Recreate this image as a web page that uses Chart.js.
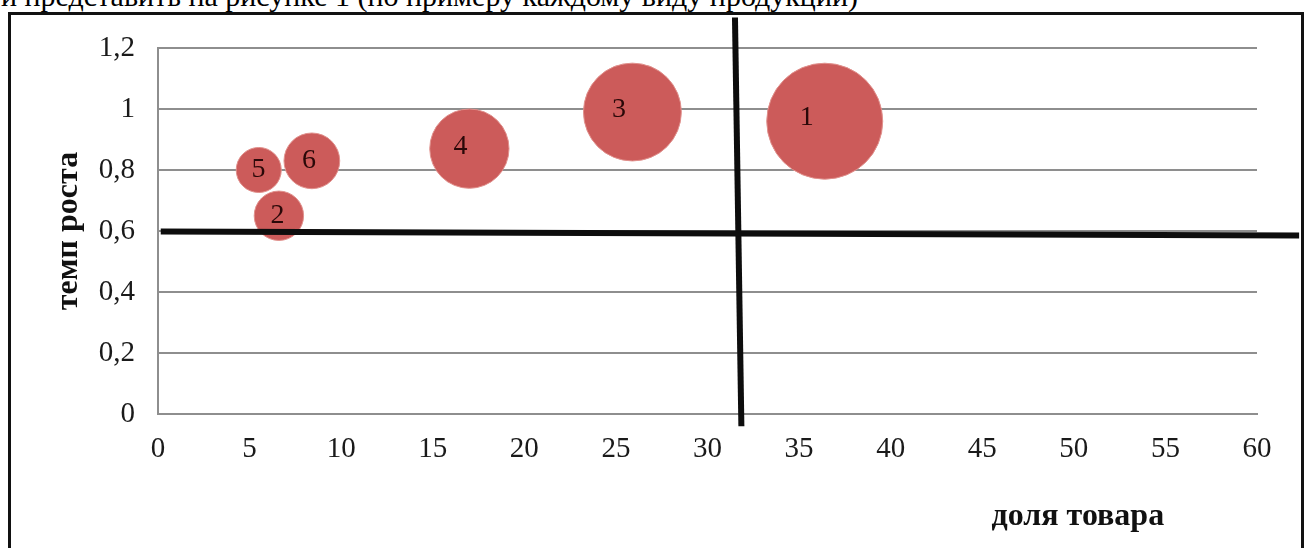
<!DOCTYPE html>
<html>
<head>
<meta charset="utf-8">
<script src="https://cdn.jsdelivr.net/npm/chart.js@4.4.0/dist/chart.umd.min.js"></script>
<style>
body { margin:0; width:1306px; height:548px; overflow:hidden; background:#fff; position:relative; }
#texte { position:absolute; left:1px; top:-21px; font-family:"Liberation Serif", serif; font-size:30px; color:#000; white-space:nowrap; line-height:34px; }
#cadre { position:absolute; left:8px; top:12px; width:1290px; height:600px; border-left:3px solid #111; border-top:3px solid #111; border-right:3px solid #111; }
#graph { position:absolute; left:0; top:0; }
</style>
</head>
<body>
<div id="texte">и представить на рисунке 1 (по примеру каждому виду продукции)</div>
<div id="cadre"></div>
<canvas id="graph" width="1306" height="548"></canvas>
<script>
// produits et valeurs
const produits = ['1', '2', '3', '4', '5', '6'];
const partTovar = [36.4, 6.6, 25.9, 17.0, 5.5, 8.4];   // доля товара (aussi taille de la bulle)
const tempRosta = [0.96, 0.65, 0.99, 0.87, 0.80, 0.83];
const yTickLabels = ['0', '0,2', '0,4', '0,6', '0,8', '1', '1,2'];
// lignes de separation (tracées a la main sur l'original)
const ligneH = [{x: 0.15, y: 0.598}, {x: 62.3, y: 0.585}];
const ligneV = [{x: 31.5, y: 1.3}, {x: 31.85, y: -0.04}];

const rMax = 58;
const maxPart = Math.max(...partTovar);

bulles = [];
for (i = 0; i < produits.length; i++) {
	bulles.push({x: partTovar[i], y: tempRosta[i], r: rMax * Math.sqrt(partTovar[i] / maxPart)});
}

const serif = '"Liberation Serif", "Times New Roman", serif';

// numero du produit dans chaque bulle + titre de l'axe x
const etiquettes = {
	id: 'etiquettes',
	afterDatasetsDraw(chart) {
		const ctx = chart.ctx;
		const meta = chart.getDatasetMeta(2);
		ctx.save();
		ctx.font = '28px ' + serif;
		ctx.fillStyle = '#2a0808';
		ctx.textAlign = 'center';
		ctx.textBaseline = 'middle';
		meta.data.forEach(function (pt, i) {
			const r = bulles[i].r;
			ctx.fillText(produits[i], pt.x - (r - 22) * 0.5, pt.y - (r - 22) * 0.1);
		});
		ctx.font = 'bold 32px ' + serif;
		ctx.fillStyle = '#111';
		ctx.textAlign = 'center';
		ctx.textBaseline = 'alphabetic';
		const a = chart.chartArea;
		ctx.fillText('доля товара', a.left + (a.right - a.left) * 0.837, a.bottom + 111);
		ctx.restore();
	}
};

new Chart(document.getElementById('graph'), {
	type: 'bubble',
	data: {
		datasets: [
			{
				type: 'line', data: ligneH, borderColor: '#0d0d0d', borderWidth: 6,
				pointRadius: 0, clip: false, order: 0, fill: false
			},
			{
				type: 'line', data: ligneV, borderColor: '#0d0d0d', borderWidth: 6,
				pointRadius: 0, clip: false, order: 0, fill: false
			},
			{
				data: bulles, backgroundColor: '#cc5b5a', borderColor: '#e0908c',
				borderWidth: 1, order: 1, clip: false
			}
		]
	},
	plugins: [etiquettes],
	options: {
		responsive: false,
		animation: false,
		layout: { autoPadding: false, padding: { left: 0, right: 49, top: 48, bottom: 0 } },
		plugins: { legend: { display: false }, tooltip: { enabled: false } },
		scales: {
			x: {
				type: 'linear', min: 0, max: 60,
				grid: { display: false, drawTicks: false },
				border: { display: true, color: '#8e8e8e', width: 2 },
				ticks: { stepSize: 5, padding: 18, color: '#1a1a1a', font: { family: serif, size: 29 } },
				afterFit: function (s) { s.height = 134; }
			},
			y: {
				type: 'linear', min: 0, max: 1.2,
				grid: { color: '#8e8e8e', lineWidth: 2, drawTicks: false },
				border: { display: true, color: '#8e8e8e', width: 2 },
				ticks: {
					stepSize: 0.2, padding: 23, color: '#1a1a1a', font: { family: serif, size: 29 },
					callback: function (v, i) { return yTickLabels[i]; }
				},
				title: {
					display: true, text: 'темп роста', color: '#111',
					font: { family: serif, size: 32, weight: 'bold' },
					padding: { top: 50, bottom: 0 }
				},
				afterFit: function (s) { s.width = 158; }
			}
		}
	}
});
</script>
</body>
</html>
